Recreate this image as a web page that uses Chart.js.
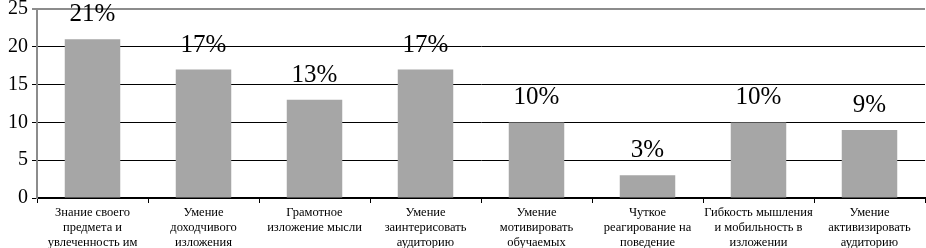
<!DOCTYPE html>
<html>
<head>
<meta charset="utf-8">
<script src="https://cdn.jsdelivr.net/npm/chart.js@4"></script>
<style>
  html, body { margin: 0; padding: 0; background: #fff; }
  #wrap { width: 926px; height: 248px; }
</style>
</head>
<body>
<div id="wrap"><canvas id="chart" width="926" height="248"></canvas></div>
<script>
// categories (multi-line labels)
const categories = [
    ['Знание своего', 'предмета и', 'увлеченность им'],
    ['Умение', 'доходчивого', 'изложения'],
    ['Грамотное', 'изложение мысли'],
    ['Умение', 'заинтерисовать', 'аудиторию'],
    ['Умение', 'мотивировать', 'обучаемых'],
    ['Чуткое', 'реагирование на', 'поведение'],
    ['Гибкость мышления', 'и мобильность в', 'изложении'],
    ['Умение', 'активизировать', 'аудиторию']
];
const values = [21, 17, 13, 17, 10, 3, 10, 9];
const yTicks = [0, 5, 10, 15, 20, 25];

// draws "21%" etc above each bar
const valueLabels = {
    id: 'valueLabels',
    afterDatasetsDraw(chart) {
        const ctx = chart.ctx;
        const meta = chart.getDatasetMeta(0);
        ctx.save();
        ctx.font = '25px "Liberation Serif", "Times New Roman", serif';
        ctx.fillStyle = '#000';
        ctx.textAlign = 'center';
        ctx.textBaseline = 'bottom';
        meta.data.forEach((bar, i) => {
            ctx.fillText(values[i] + '%', bar.x, bar.y - 12);
        });
        ctx.restore();
    }
};

const ctx = document.getElementById('chart').getContext('2d');
new Chart(ctx, {
    type: 'bar',
    data: {
        labels: categories,
        datasets: [{
            data: values,
            backgroundColor: '#a6a6a6',
            borderWidth: 0,
            barPercentage: 1,
            categoryPercentage: 0.5
        }]
    },
    options: {
        responsive: false,
        animation: false,
        layout: { padding: { top: 3, right: 1, left: 0, bottom: 0 } },
        plugins: {
            legend: { display: false },
            tooltip: { enabled: false }
        },
        scales: {
            x: {
                afterFit: scale => { scale.height = 50; },
                grid: {
                    offset: true,
                    drawOnChartArea: false,
                    drawTicks: true,
                    tickLength: 5,
                    color: '#000'
                },
                border: { color: '#000', width: 2 },
                ticks: {
                    color: '#000',
                    padding: 2,
                    maxRotation: 0,
                    autoSkip: false,
                    font: { family: '"Liberation Serif", "Times New Roman", serif', size: 12.5, lineHeight: 1.2 }
                }
            },
            y: {
                min: 0,
                max: 25,
                afterFit: scale => { scale.width = 37; },
                afterBuildTicks: scale => { scale.ticks = yTicks.map(v => ({ value: v })); },
                grid: {
                    color: c => (c.tick && c.tick.value === 25 ? '#8c8c8c' : '#000'),
                    lineWidth: c => (c.tick && c.tick.value === 25 ? 2 : 1),
                    tickLength: 5
                },
                border: { color: '#8c8c8c', width: 2 },
                ticks: {
                    color: '#000',
                    padding: 4,
                    font: { family: '"Liberation Serif", "Times New Roman", serif', size: 20, lineHeight: 0.5 }
                }
            }
        }
    },
    plugins: [valueLabels]
});
</script>
</body>
</html>
